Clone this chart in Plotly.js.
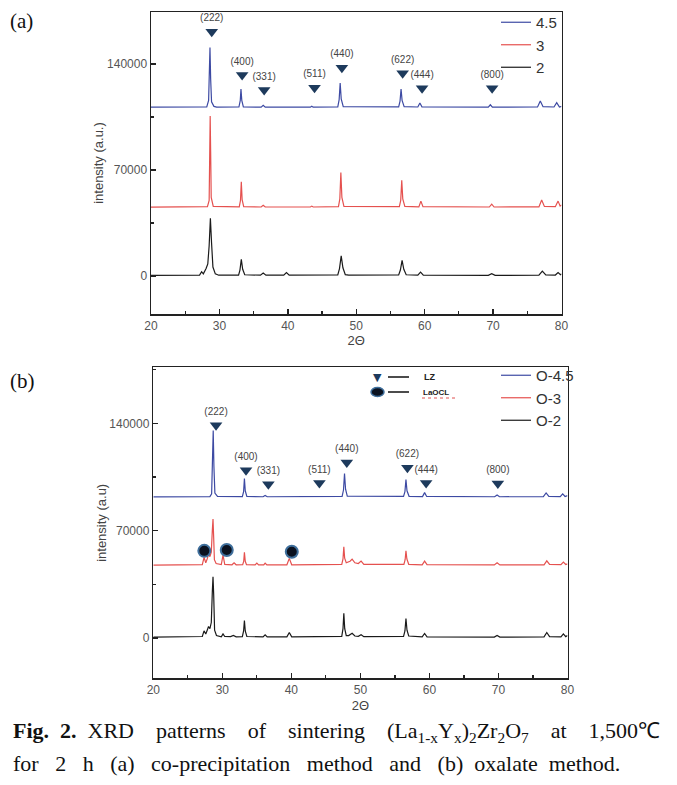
<!DOCTYPE html>
<html>
<head>
<meta charset="utf-8">
<script src="https://cdn.plot.ly/plotly-3.0.1.min.js"></script>
<style>html,body{margin:0;padding:0;background:#fff;}#chart{width:677px;height:785px;}</style>
</head>
<body>
<div id="chart"></div>
<script>
// ---------------- DATA ----------------
// Panel (a): co-precipitation, [2theta, intensity]
const a45 = [[20,111500],[25.5,111700],[26,111500],[28.15,111700],[28.42,116000],[28.55,140000],[28.62,150900],[28.72,130000],[28.85,115000],[29.2,112000],[29.6,111500],
  [32.85,111600],[33.05,116000],[33.15,123400],[33.27,116000],[33.5,111700],
  [36.1,111500],[36.4,112700],[36.7,111500],[43.3,111500],[43.5,112100],[43.7,111500],
  [47.3,111700],[47.5,116500],[47.65,127400],[47.8,117000],[48.1,111800],
  [56.2,111700],[56.4,115500],[56.55,123400],[56.7,116000],[57.0,111800],
  [59.0,111600],[59.3,114200],[59.6,111700],[69.3,111500],[69.6,113100],[69.9,111500],
  [76.5,111600],[76.9,115500],[77.3,111800],[78.9,111600],[79.3,114500],[79.7,111600],[80,112000]];
const a3 = [[20,45500],[26,45600],[28.25,45800],[28.5,50000],[28.58,80000],[28.65,105600],[28.72,82000],[28.8,52000],[29.1,46000],
  [32.9,45700],[33.08,50000],[33.2,62200],[33.32,50500],[33.55,45800],
  [36.1,45600],[36.4,46800],[36.7,45600],[43.3,45600],[43.5,46200],[43.7,45600],
  [47.4,45800],[47.6,51000],[47.75,68400],[47.9,52000],[48.2,46000],
  [56.3,45800],[56.5,50000],[56.65,63200],[56.8,51000],[57.1,46000],
  [59.15,45700],[59.45,49500],[59.75,45800],[69.45,45600],[69.8,47500],[70.15,45600],
  [76.7,45700],[77.1,50200],[77.5,46000],[79.1,45800],[79.5,49500],[79.8,46200],[80,47000]];
const a2 = [[20,500],[26.8,600],[27.1,700],[27.4,2900],[27.65,1500],[28.05,5000],[28.3,8000],[28.5,20000],[28.68,38100],[28.85,22000],[29.05,6000],[29.4,1500],[29.9,600],
  [32.8,700],[33.0,4000],[33.2,11000],[33.4,4500],[33.7,900],
  [36.0,600],[36.4,2000],[36.8,600],[39.4,600],[39.8,2300],[40.2,600],
  [47.3,800],[47.55,5000],[47.8,13400],[48.05,5500],[48.4,1000],[48.9,600],
  [56.2,800],[56.45,4000],[56.7,10400],[56.95,4500],[57.3,900],
  [59.0,600],[59.4,2600],[59.8,700],[69.3,500],[69.8,1600],[70.3,500],
  [76.7,600],[77.2,3300],[77.7,800],[79.1,700],[79.5,2300],[79.85,900],[80,1500]];
// Panel (b): oxalate
const b45 = [[20,92000],[28.2,92200],[28.45,94000],[28.58,110000],[28.68,135400],[28.78,112000],[28.92,94500],[29.3,92400],
  [32.9,92200],[33.08,95500],[33.2,104000],[33.32,96000],[33.55,92300],
  [35.9,92100],[36.2,93000],[36.5,92100],
  [47.35,92300],[47.55,96500],[47.7,107200],[47.85,97000],[48.1,92500],
  [56.25,92300],[56.45,95500],[56.6,103300],[56.75,96000],[57.05,92400],
  [59.0,92200],[59.3,94800],[59.6,92300],[69.45,92100],[69.8,93300],[70.15,92100],
  [76.5,92200],[76.9,94600],[77.3,92400],[78.95,92200],[79.3,94000],[79.65,92300],[80,92800]];
const b3 = [[20,47500],[26.8,47600],[27.1,47800],[27.35,52500],[27.6,49000],[27.85,52000],[28.0,55100],[28.2,53000],[28.4,56000],[28.55,70000],[28.65,77500],[28.75,65000],[28.85,51000],[29.1,48500],[29.6,47800],
  [29.85,47800],[30.1,54000],[30.35,48000],[31.4,47700],[31.7,49000],[32.0,47700],
  [32.95,47800],[33.1,50000],[33.2,55800],[33.32,50000],[33.5,47800],
  [34.75,47600],[35.0,48800],[35.25,47600],[36.0,47600],[36.2,48800],[36.45,47600],
  [39.35,47700],[39.7,51900],[40.05,47700],
  [47.3,47900],[47.48,51500],[47.6,59400],[47.72,52000],[47.95,49000],[48.5,50000],[48.8,51400],[49.2,49000],[49.7,48500],[50.1,50100],[50.5,48000],
  [56.3,47900],[56.48,51000],[56.6,56800],[56.73,51500],[57.0,48000],
  [58.95,47700],[59.3,50100],[59.65,47800],[69.4,47600],[69.8,49000],[70.2,47600],
  [76.6,47700],[77.0,50300],[77.4,47900],[79.05,47800],[79.4,49400],[79.75,47900],[80,48300]];
const b2 = [[20,500],[26.8,600],[27.1,900],[27.35,4600],[27.6,2500],[27.85,5500],[28.0,7400],[28.2,6000],[28.4,10000],[28.55,30000],[28.65,39900],[28.75,28000],[28.88,5000],[29.15,1500],[29.6,700],
  [29.85,700],[30.1,2600],[30.35,900],[31.2,800],[31.6,1600],[32.0,700],
  [32.9,800],[33.08,4500],[33.2,11300],[33.32,4500],[33.55,900],
  [35.9,600],[36.2,2000],[36.5,600],[39.35,700],[39.7,3500],[40.05,700],
  [47.3,1000],[47.48,6000],[47.6,16100],[47.73,6000],[47.95,1500],[48.3,1500],[48.8,3000],[49.2,1200],[49.7,1000],[50.1,2000],[50.5,800],
  [56.25,1000],[56.45,4500],[56.6,12600],[56.75,5000],[57.0,1200],
  [58.95,700],[59.3,2900],[59.65,700],[69.4,500],[69.8,1600],[70.2,500],
  [76.6,600],[77.0,3500],[77.4,800],[79.05,700],[79.4,2600],[79.75,800],[80,1500]];

const seriesA = ['4.5','3','2'];
const seriesB = ['O-4.5','O-3','O-2'];
const hkl = ['(222)','(400)','(331)','(511)','(440)','(622)','(444)','(800)'];
const aTriX = [28.88,33.32,36.54,43.9,47.9,56.78,59.62,69.86];
const aTriY = [161200,132700,122800,124300,137500,133800,123900,123900];
const bTriX = [29.09,33.43,36.67,44.06,48.03,56.81,59.52,69.91];
const bTriY = [138700,109400,100300,101100,114400,111100,101100,100700];
const laoclX = [27.39,30.64,40.06];
const laoclY = [56800,57300,56200];
const yTickVals = [0,70000,140000];
const yTickText = ['0','70000','140000'];

// ---------------- STYLE ----------------
const W = 677, H = 785;
const PX = p => p / W, PY = p => 1 - p / H;
const colors = ['#3d4aa3', '#e5514f', '#1a1a1a'];
const sans = 'Liberation Sans, Arial, sans-serif';
const serif = 'Liberation Serif, Times New Roman, serif';
const N = '\u00A0';

function line(data, name, color, xa, ya, leg) {
  return {x: data.map(d => d[0]), y: data.map(d => d[1]), type: 'scatter', mode: 'lines',
    name: name, line: {color: color, width: 1.2}, xaxis: xa, yaxis: ya, legend: leg, hoverinfo: 'skip'};
}
function tri(xs, ys, xa, ya) {
  return {x: xs, y: ys, text: hkl, type: 'scatter', mode: 'markers+text', textposition: 'top center',
    textfont: {family: sans, size: 10, color: '#444'}, cliponaxis: false,
    marker: {symbol: 'triangle-down', size: 11, color: '#1d3a5c'}, xaxis: xa, yaxis: ya, showlegend: false, hoverinfo: 'skip'};
}

const traces = [
  line(a45, seriesA[0], colors[0], 'x', 'y', 'legend'),
  line(a3, seriesA[1], colors[1], 'x', 'y', 'legend'),
  line(a2, seriesA[2], colors[2], 'x', 'y', 'legend'),
  line(b45, seriesB[0], colors[0], 'x2', 'y2', 'legend2'),
  line(b3, seriesB[1], colors[1], 'x2', 'y2', 'legend2'),
  line(b2, seriesB[2], colors[2], 'x2', 'y2', 'legend2'),
  tri(aTriX, aTriY, 'x', 'y'),
  tri(bTriX, bTriY, 'x2', 'y2'),
  {x: laoclX, y: laoclY, type: 'scatter', mode: 'markers', xaxis: 'x2', yaxis: 'y2', showlegend: false, hoverinfo: 'skip',
   marker: {symbol: 'circle', size: 12, color: '#0b1220', line: {color: '#3f6f9c', width: 2}}, cliponaxis: false}
];

function xaxis(dom, anchor) {
  return {domain: dom, anchor: anchor, range: [20, 80], dtick: 10, tick0: 20, ticks: 'inside', ticklen: 5, tickwidth: 1.5, tickcolor: '#222',
    minor: {dtick: 5, ticks: 'inside', ticklen: 3, tickwidth: 1.2, tickcolor: '#222'},
    showline: true, linecolor: '#222', linewidth: 1.5, mirror: true, showgrid: false, zeroline: false,
    tickfont: {family: sans, size: 12, color: '#555'},
    title: {text: '2Θ', font: {family: sans, size: 13, color: '#444'}, standoff: 4}, automargin: false};
}
function yaxis(dom, anchor, range, title) {
  return {domain: dom, anchor: anchor, range: range, tickvals: yTickVals, ticktext: yTickText, ticks: 'inside', ticklen: 5, tickwidth: 1.5, tickcolor: '#222',
    minor: {dtick: 35000, tick0: 0, ticks: 'inside', ticklen: 3, tickwidth: 1.2, tickcolor: '#222'},
    showline: true, linecolor: '#222', linewidth: 1.5, mirror: true, showgrid: false, zeroline: false,
    tickfont: {family: sans, size: 12, color: '#555'},
    title: {text: title, font: {family: sans, size: 13, color: '#444'}, standoff: 0}, automargin: false};
}
function legend(x, y) {
  return {x: x, y: y, xanchor: 'left', yanchor: 'top', xref: 'paper', yref: 'paper', bgcolor: 'rgba(0,0,0,0)', borderwidth: 0,
    font: {family: sans, size: 15, color: '#333'}, itemwidth: 30, traceorder: 'normal', tracegroupgap: 0};
}

const shapes = [
  {type: 'line', xref: 'paper', yref: 'paper', x0: PX(388), x1: PX(409), y0: PY(377), y1: PY(377), line: {color: '#111', width: 1.5}},
  {type: 'line', xref: 'paper', yref: 'paper', x0: PX(388), x1: PX(409), y0: PY(392), y1: PY(392), line: {color: '#111', width: 1.5}},
  {type: 'circle', xref: 'paper', yref: 'paper', x0: PX(371), x1: PX(384), y0: PY(387.5), y1: PY(396.5), fillcolor: '#0b1220', line: {color: '#3f6f9c', width: 1.5}},
  {type: 'line', xref: 'paper', yref: 'paper', x0: PX(422), x1: PX(455), y0: PY(398), y1: PY(398), line: {color: '#e05050', width: 1, dash: 'dot'}}
];
const g1 = N + N + N + N;
const g2 = N + N + N;
const annotations = [
  {xref: 'paper', yref: 'paper', x: PX(377.5), y: PY(377), text: '▼', showarrow: false, font: {family: 'DejaVu Sans', size: 11, color: '#1d3a5c'}, xanchor: 'center', yanchor: 'middle'},
  {xref: 'paper', yref: 'paper', x: PX(422), y: PY(377), text: '<b>LZ</b>', showarrow: false, font: {family: sans, size: 9, color: '#222'}, xanchor: 'left', yanchor: 'middle'},
  {xref: 'paper', yref: 'paper', x: PX(421), y: PY(392), text: '<b>LaOCL</b>', showarrow: false, font: {family: sans, size: 8, color: '#222'}, xanchor: 'left', yanchor: 'middle'},
  {xref: 'paper', yref: 'paper', x: PX(8), y: PY(21), text: '(a)', showarrow: false, font: {family: serif, size: 21, color: '#111'}, xanchor: 'left', yanchor: 'middle'},
  {xref: 'paper', yref: 'paper', x: PX(8), y: PY(381), text: '(b)', showarrow: false, font: {family: serif, size: 21, color: '#111'}, xanchor: 'left', yanchor: 'middle'},
  {xref: 'paper', yref: 'paper', x: PX(11), y: PY(732), xanchor: 'left', yanchor: 'middle', showarrow: false, font: {family: serif, size: 22, color: '#111'},
   text: '<b>Fig.' + N + N + '2.</b>' + N + N + 'XRD' + g1 + 'patterns' + g1 + 'of' + g1 + 'sintering' + g1 + '(La<sub>1-x</sub>Y<sub>x</sub>)<sub>2</sub>Zr<sub>2</sub>O<sub>7</sub>' + g1 + 'at' + g1 + '1,500℃'},
  {xref: 'paper', yref: 'paper', x: PX(11), y: PY(763), xanchor: 'left', yanchor: 'middle', showarrow: false, font: {family: serif, size: 22, color: '#111'},
   text: 'for' + g2 + '2' + g2 + 'h' + g2 + '(a)' + g2 + 'co-precipitation' + g2 + 'method' + g2 + 'and' + g2 + '(b)' + N + N + 'oxalate' + N + N + 'method.'}
];

const layout = {
  width: W, height: H, margin: {l: 0, r: 0, t: 0, b: 0}, paper_bgcolor: '#fff', plot_bgcolor: 'rgba(0,0,0,0)',
  showlegend: true,
  xaxis: xaxis([PX(151), PX(561.5)], 'y'),
  yaxis: yaxis([PY(314), PY(12)], 'x', [-25000, 174300], 'intensity (a.u.)'),
  xaxis2: xaxis([PX(153.3), PX(567.5)], 'y2'),
  yaxis2: yaxis([PY(678.3), PY(367.3)], 'x2', [-26400, 176600], 'intensity (a.u)'),
  legend: legend(PX(496), PY(6)),
  legend2: legend(PX(496), PY(359)),
  shapes: shapes, annotations: annotations
};

Plotly.newPlot('chart', traces, layout, {staticPlot: true, displayModeBar: false});
</script>
</body>
</html>
